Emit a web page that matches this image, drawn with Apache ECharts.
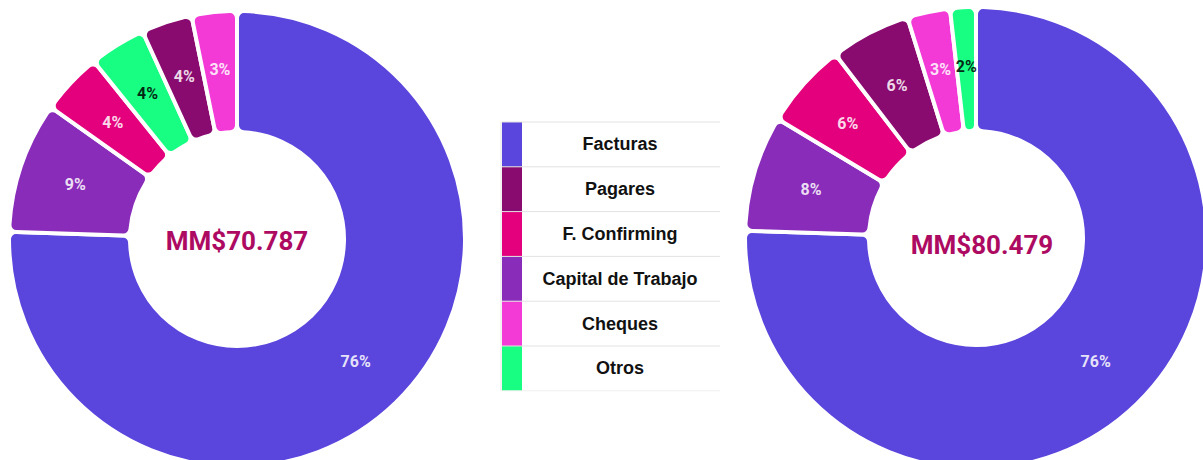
<!DOCTYPE html>
<html>
<head>
<meta charset="utf-8">
<script src="https://cdn.jsdelivr.net/npm/echarts@6/dist/echarts.min.js"></script>
<style>
html,body{margin:0;padding:0;background:#fff;}
#chart{width:1203px;height:460px;}
</style>
</head>
<body>
<div id="chart"></div>
<script>
// ---- data ----
const legendCategories = ['Facturas', 'Pagares', 'F. Confirming', 'Capital de Trabajo', 'Cheques', 'Otros'];
const categoryColors = ['#5a45dd', '#8a0b6f', '#e4007c', '#892cba', '#f33ad6', '#17fe83'];

const leftCategories = ['Facturas', 'Capital de Trabajo', 'F. Confirming', 'Otros', 'Pagares', 'Cheques'];
const leftValues = [75.5, 9.3, 4.4, 4.0, 3.6, 3.2];
const leftTotal = 'MM$70.787';

const rightCategories = ['Facturas', 'Capital de Trabajo', 'F. Confirming', 'Pagares', 'Cheques', 'Otros'];
const rightValues = [75.5, 8.1, 6.0, 5.6, 3.0, 1.8];
const rightTotal = 'MM$80.479';

// ---- chart ----
const colorOf = name => categoryColors[legendCategories.indexOf(name)];
const labelColorOf = name => name === 'Otros' ? 'rgba(0,0,0,0.85)' : 'rgba(255,255,255,0.86)';

function buildData(cats, vals) {
  return cats.map((c, i) => ({
    name: c,
    value: vals[i],
    itemStyle: { color: colorOf(c) },
    label: { color: labelColorOf(c) }
  }));
}

function pieSeries(cats, vals, center, radius) {
  return {
    type: 'pie',
    center: center,
    radius: radius,
    startAngle: 90,
    clockwise: true,
    avoidLabelOverlap: false,
    silent: true,
    itemStyle: { borderColor: '#fff', borderWidth: 4, borderRadius: 7 },
    label: {
      show: true,
      position: 'inside',
      fontFamily: 'Roboto',
      fontSize: 16,
      fontWeight: 'bold',
      formatter: p => Math.round(p.percent) + '%'
    },
    labelLine: { show: false },
    emphasis: { disabled: true },
    data: buildData(cats, vals)
  };
}

const chart = echarts.init(document.getElementById('chart'), null, { renderer: 'svg' });

// legend table built from the category arrays
const tableX = 502, tableW = 218, tableTop = 122, rowH = 44.8, swatchW = 20;
const legendGraphics = [];
legendCategories.forEach((c, i) => {
  const y = tableTop + i * rowH;
  legendGraphics.push({
    type: 'rect', shape: { x: tableX, y: y, width: swatchW, height: rowH }, style: { fill: categoryColors[i] }
  });
  legendGraphics.push({
    type: 'line', shape: { x1: tableX, y1: y, x2: tableX + tableW, y2: y }, style: { stroke: '#e2e2e2', lineWidth: 1 }
  });
  legendGraphics.push({
    type: 'text', x: tableX + swatchW + (tableW - swatchW) / 2 - 1, y: y + rowH / 2,
    style: { text: c, fill: '#111', font: 'bold 18px "Liberation Sans", Arial, sans-serif', textAlign: 'center', textVerticalAlign: 'middle' }
  });
});
legendGraphics.push({
  type: 'line', shape: { x1: tableX - 1, y1: tableTop, x2: tableX - 1, y2: tableTop + rowH * legendCategories.length }, style: { stroke: '#e6e6e6', lineWidth: 1 }
});
legendGraphics.push({
  type: 'line', shape: { x1: tableX, y1: tableTop + rowH * legendCategories.length, x2: tableX + tableW, y2: tableTop + rowH * legendCategories.length }, style: { stroke: '#f0f0f0', lineWidth: 1 }
});

const centerTextStyle = { fill: '#ad0a62', font: 'bold 26px Roboto, sans-serif', textAlign: 'center', textVerticalAlign: 'middle' };

chart.setOption({
  animation: false,
  backgroundColor: '#fff',
  series: [
    pieSeries(leftCategories, leftValues, [237, 239], [107, 228]),
    pieSeries(rightCategories, rightValues, [976, 238], [107, 231])
  ],
  graphic: legendGraphics.concat([
    { type: 'text', x: 237, y: 241, style: Object.assign({ text: leftTotal }, centerTextStyle) },
    { type: 'text', x: 982, y: 245, style: Object.assign({ text: rightTotal }, centerTextStyle) }
  ])
});
</script>
</body>
</html>
